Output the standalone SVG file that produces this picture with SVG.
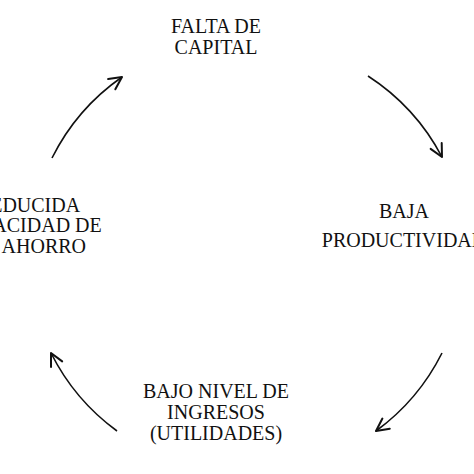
<svg xmlns="http://www.w3.org/2000/svg" width="474" height="474" viewBox="0 0 474 474">
<style>
text{font-family:"Liberation Serif","Times New Roman",serif;font-size:20px;fill:#111;text-anchor:middle}
.arc{fill:none;stroke:#111;stroke-width:1.6;marker-end:url(#ah)}
</style>
<defs>
<marker id="ah" markerUnits="userSpaceOnUse" markerWidth="20" markerHeight="20" refX="0" refY="0" viewBox="-12 -8 14 16" orient="auto" overflow="visible">
<path d="M-10,-5 L0,0 L-10,5" fill="none" stroke="#111" stroke-width="1.6" stroke-linecap="round" stroke-linejoin="round"/>
</marker>
</defs>
<rect width="474" height="474" fill="#fff"/>
<g id="connectors">
<path class="arc" d="M52,158 A217,217 0 0 1 122,77"/>
<path class="arc" d="M368,76 A217,217 0 0 1 442,157"/>
<path class="arc" d="M442,353 A217,217 0 0 1 376,431"/>
<path class="arc" d="M117,431 A217,217 0 0 1 51,353"/>
</g>
<g id="falta-de-capital">
<text x="216" y="33">FALTA DE</text>
<text x="216" y="54">CAPITAL</text>
</g>
<g id="baja-productividad">
<text x="404" y="218">BAJA</text>
<text x="404" y="247">PRODUCTIVIDAD</text>
</g>
<g id="bajo-nivel-de-ingresos">
<text x="216" y="398">BAJO NIVEL DE</text>
<text x="216" y="419">INGRESOS</text>
<text x="216" y="440">(UTILIDADES)</text>
</g>
<g id="reducida-capacidad-de-ahorro">
<text x="28.5" y="212">REDUCIDA</text>
<text x="28.5" y="232">CAPACIDAD DE</text>
<text x="28.5" y="253">DE AHORRO</text>
</g>
</svg>
